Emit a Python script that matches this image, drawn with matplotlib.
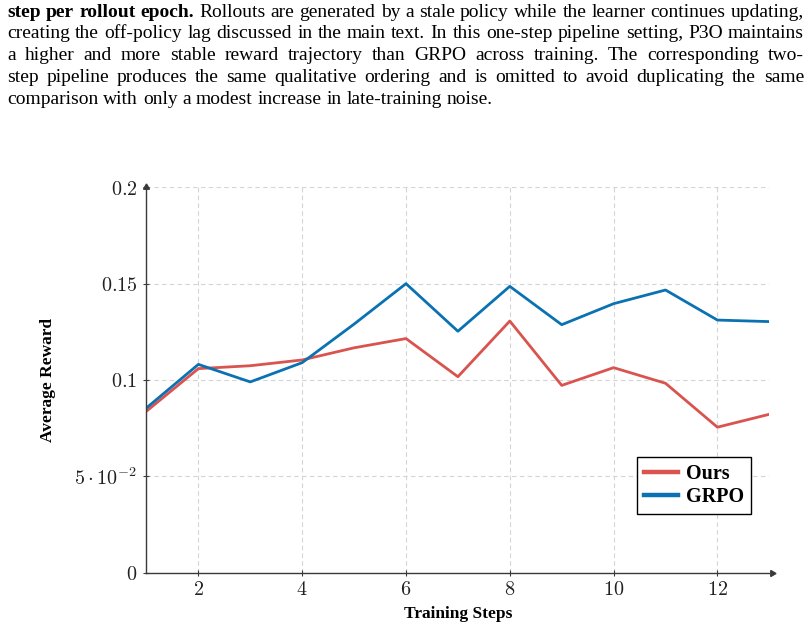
import matplotlib
matplotlib.use("Agg")
import matplotlib.pyplot as plt
from matplotlib.ticker import FixedLocator, FixedFormatter

# данные
steps = [1, 2, 3, 4, 5, 6, 7, 8, 9, 10, 11, 12, 13]
ours = [0.0838, 0.1059, 0.1074, 0.1104, 0.1167, 0.1215, 0.1017, 0.1306,
        0.0972, 0.1064, 0.0983, 0.0755, 0.0822]
grpo = [0.0855, 0.1081, 0.0990, 0.1090, 0.1290, 0.1500, 0.1253, 0.1486,
        0.1287, 0.1396, 0.1467, 0.1311, 0.1303]

x_ticks = [2, 4, 6, 8, 10, 12]
x_tick_labels = ['$2$', '$4$', '$6$', '$8$', '$10$', '$12$']
y_ticks = [0, 0.05, 0.1, 0.15, 0.2]
y_tick_labels = ['$0$', r'$5\cdot10^{-2}$', '$0.1$', '$0.15$', '$0.2$']

caption_lines = [
    [("step per rollout epoch.", True),
     ("Rollouts are generated by a stale policy while the learner continues updating,", False)],
    [("creating the off-policy lag discussed in the main text. In this one-step pipeline setting, P3O maintains", False)],
    [("a higher and more stable reward trajectory than GRPO across training.  The corresponding two-", False)],
    [("step pipeline produces the same qualitative ordering and is omitted to avoid duplicating the same", False)],
    [("comparison with only a modest increase in late-training noise.", False)],
]

RED = '#d9534f'
BLUE = '#0a72b2'
AXIS = '#3a3a3a'
SERIF = 'Liberation Serif'

plt.rcParams['mathtext.fontset'] = 'cm'

fig = plt.figure(figsize=(8.07, 6.33), dpi=100)
ax = fig.add_axes([0.1815, 0.0953, 0.7718, 0.6088])

ax.plot(steps, ours, color=RED, lw=2.0, label='Ours')
ax.plot(steps, grpo, color=BLUE, lw=2.0, label='GRPO')

ax.set_xlim(1, 13)
ax.set_ylim(0, 0.2)

ax.xaxis.set_major_locator(FixedLocator(x_ticks))
ax.xaxis.set_major_formatter(FixedFormatter(x_tick_labels))
ax.yaxis.set_major_locator(FixedLocator(y_ticks))
ax.yaxis.set_major_formatter(FixedFormatter(y_tick_labels))
ax.tick_params(axis='both', direction='inout', length=5, width=0.8,
               color=AXIS, labelsize=14.5, labelcolor='#222222')
ax.tick_params(axis='x', pad=3)
ax.tick_params(axis='y', pad=4)

ax.grid(True, color='#d4d4d4', lw=0.8, linestyle=(0, (4, 3)))
ax.set_axisbelow(True)

for s in ['top', 'right']:
    ax.spines[s].set_visible(False)
for s in ['left', 'bottom']:
    ax.spines[s].set_color(AXIS)
    ax.spines[s].set_linewidth(1.0)

# стрелки на осях
ax.plot(1.004, 0, marker=(3, 0, -90), color=AXIS, markersize=5,
        transform=ax.transAxes, clip_on=False)
ax.plot(0, 1.0, marker=(3, 0, 0), color=AXIS, markersize=5,
        transform=ax.transAxes, clip_on=False)

ax.set_xlabel('Training Steps', fontfamily=SERIF, fontweight='bold',
              fontsize=12.5, labelpad=5)
ax.set_ylabel('Average Reward', fontfamily=SERIF, fontweight='bold',
              fontsize=12.5, labelpad=13)

leg = ax.legend(loc='upper right', bbox_to_anchor=(0.971, 0.300),
                borderaxespad=0, fancybox=False, framealpha=1,
                edgecolor='black', handlelength=1.7, handletextpad=0.4,
                borderpad=0.35, labelspacing=0.15,
                prop={'family': SERIF, 'weight': 'bold', 'size': 14.5})
leg.get_frame().set_linewidth(1.0)
for h in leg.get_lines():
    h.set_linewidth(3.2)

# подпись сверху, выровненная по ширине
W, H = 807, 633
left_px, right_px = 7, 804
baseline0, line_step = 16.7, 21.8
fsize = 14.0
renderer = fig.canvas.get_renderer()

for i, line in enumerate(caption_lines):
    words = []
    for chunk, bold in line:
        for w in chunk.split():
            words.append((w, bold))
    y = 1 - (baseline0 + i * line_step) / H
    texts = []
    total = 0
    for w, bold in words:
        t = fig.text(0, y, w, fontsize=fsize, fontfamily=SERIF,
                     fontweight='bold' if bold else 'normal',
                     va='baseline', ha='left', color='black')
        wd = t.get_window_extent(renderer).width
        texts.append((t, wd))
        total += wd
    last = i == len(caption_lines) - 1
    if last:
        space = fig.text(0, 0, 'a b', fontsize=fsize, fontfamily=SERIF)
        gap = space.get_window_extent(renderer).width
        a = fig.text(0, 0, 'ab', fontsize=fsize, fontfamily=SERIF)
        gap -= a.get_window_extent(renderer).width
        space.remove()
        a.remove()
    else:
        gap = (right_px - left_px - total) / (len(words) - 1)
    x = left_px
    for t, wd in texts:
        t.set_x(x / W)
        x += wd + gap

fig.savefig('out.png', dpi=100)
